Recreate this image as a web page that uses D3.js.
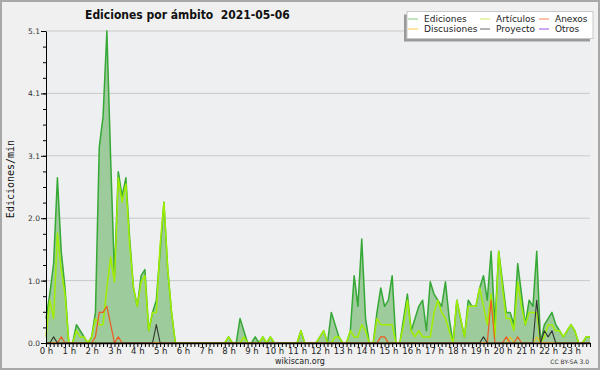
<!DOCTYPE html>
<html>
<head>
<meta charset="utf-8">
<script src="https://cdn.jsdelivr.net/npm/d3@7"></script>
<style>
    body { margin: 0; background: #fff; }
    svg { display: block; }
    text { font-family: "DejaVu Sans", sans-serif; }
</style>
</head>
<body>
<svg id="chart" width="600" height="370"></svg>
<script>
var title = "Ediciones por ámbito  2021-05-06";
var yTitle = "Ediciones/min";

var yTickValues = [0, 1.02, 2.04, 3.06, 4.08, 5.1];
var yTickLabels = ["0.0", "1.0", "2.0", "3.1", "4.1", "5.1"];
var hourLabels = ["0 h", "1 h", "2 h", "3 h", "4 h", "5 h", "6 h", "7 h", "8 h", "9 h", "10 h", "11 h",
    "12 h", "13 h", "14 h", "15 h", "16 h", "17 h", "18 h", "19 h", "20 h", "21 h", "22 h", "23 h"];

// one value every 10 minutes, one line per hour
var ediciones = [
    0.4, 0.8, 1.3, 2.7, 1.5, 0.9,
    0, 0, 0.3, 0.2, 0.1, 0,
    0.1, 0.5, 3.2, 3.7, 5.1, 3.0,
    1.1, 2.8, 2.4, 2.7, 1.7, 0.9,
    0.6, 1.1, 1.2, 0.2, 0.5, 0.7,
    1.5, 2.3, 1.2, 0.5, 0, 0,
    0, 0, 0, 0, 0, 0,
    0, 0, 0, 0, 0, 0,
    0.1, 0, 0, 0.4, 0.2, 0,
    0, 0.1, 0, 0.1, 0, 0.1,
    0, 0, 0, 0, 0, 0,
    0, 0.2, 0, 0, 0, 0,
    0.1, 0.2, 0, 0.5, 0.3, 0.1,
    0, 0, 0.2, 1.1, 0.6, 1.7,
    0.4, 0, 0, 0.5, 0.9, 0.6,
    0.7, 1.1, 0, 0, 0.4, 0.8,
    0.2, 0.4, 0.6, 0.7, 0.2, 1.0,
    0.8, 0.7, 0.6, 1.0, 0.4, 0,
    0.7, 0.4, 0.1, 0.7, 0.6, 0.6,
    0.9, 1.1, 0.7, 1.5, 0.3, 1.5,
    1.0, 0.5, 0.5, 0.3, 1.3, 0.8,
    0.3, 0.7, 0.6, 1.5, 0, 0.3,
    0.4, 0.5, 0.3, 0.2, 0.1, 0.2,
    0.3, 0.2, 0, 0, 0.1, 0.1
];
var articulos = [
    0.1, 0.7, 0.4, 1.8, 1.2, 0.8,
    0, 0, 0.2, 0.1, 0.1, 0,
    0.1, 0.4, 0.3, 0.3, 0.9, 1.4,
    1.0, 2.7, 2.3, 2.6, 1.6, 0.9,
    0.6, 1.0, 1.1, 0.2, 0.5, 0.5,
    1.6, 2.3, 1.2, 0.5, 0, 0,
    0, 0, 0, 0, 0, 0,
    0, 0, 0, 0, 0, 0,
    0.1, 0, 0, 0, 0.1, 0,
    0, 0, 0, 0.1, 0, 0.1,
    0, 0, 0, 0, 0, 0,
    0, 0.2, 0, 0, 0, 0,
    0.1, 0.2, 0, 0, 0.1, 0.1,
    0, 0, 0.2, 0.1, 0.1, 0.3,
    0.2, 0, 0, 0.4, 0.3, 0.3,
    0.3, 0.3, 0, 0, 0.3, 0.7,
    0.2, 0.1, 0.2, 0.1, 0.1, 0.1,
    0.5, 0.7, 0.5, 0.4, 0.2, 0,
    0.7, 0.4, 0.1, 0.6, 0.6, 0.6,
    0.9, 0.6, 0.3, 0.8, 0.1, 1.5,
    0.9, 0.4, 0.4, 0.2, 1.0, 0.6,
    0.3, 0.5, 0.5, 0.5, 0, 0.1,
    0.3, 0.3, 0.2, 0.2, 0.1, 0.2,
    0.3, 0.2, 0, 0, 0.1, 0.1
];
var anexos = [
    0, 0, 0, 0, 0.1, 0,
    0, 0, 0, 0, 0, 0,
    0, 0.1, 0.5, 0.5, 0.6, 0.3,
    0, 0.1, 0, 0, 0, 0,
    0, 0, 0, 0, 0, 0,
    0, 0, 0, 0, 0, 0,
    0, 0, 0, 0, 0, 0,
    0, 0, 0, 0, 0, 0,
    0, 0, 0, 0, 0, 0,
    0, 0, 0, 0, 0, 0,
    0, 0, 0, 0, 0, 0,
    0, 0, 0, 0, 0, 0,
    0, 0, 0, 0, 0, 0,
    0, 0, 0, 0, 0, 0,
    0, 0, 0, 0, 0.1, 0.1,
    0, 0, 0, 0, 0, 0,
    0, 0, 0, 0, 0, 0,
    0, 0, 0, 0, 0, 0,
    0, 0, 0, 0, 0, 0,
    0, 0, 0, 0.7, 0, 0,
    0, 0.1, 0, 0, 0.1, 0,
    0, 0, 0, 0, 0, 0,
    0, 0, 0, 0, 0, 0,
    0, 0, 0, 0, 0, 0
];
var proyecto = [
    0, 0, 0.1, 0, 0, 0,
    0, 0, 0, 0, 0, 0,
    0, 0, 0, 0, 0, 0,
    0, 0, 0, 0, 0, 0,
    0, 0, 0, 0, 0, 0.3,
    0, 0, 0, 0, 0, 0,
    0, 0, 0, 0, 0, 0,
    0, 0, 0, 0, 0, 0,
    0, 0, 0, 0, 0, 0,
    0, 0, 0, 0, 0, 0,
    0, 0, 0, 0, 0, 0,
    0, 0, 0, 0, 0, 0,
    0, 0, 0, 0, 0, 0,
    0, 0, 0, 0, 0, 0,
    0, 0, 0, 0, 0, 0,
    0, 0, 0, 0, 0, 0,
    0, 0, 0, 0, 0, 0,
    0, 0, 0, 0, 0, 0,
    0, 0, 0, 0, 0, 0,
    0, 0.1, 0, 0, 0, 0,
    0, 0, 0, 0, 0, 0,
    0, 0, 0, 0.7, 0, 0.2,
    0.1, 0.2, 0, 0, 0, 0,
    0, 0, 0, 0, 0, 0
];
var discusiones = [
    0, 0, 0, 0, 0, 0,
    0, 0, 0, 0, 0, 0,
    0, 0, 0, 0, 0, 0,
    0, 0, 0, 0, 0, 0,
    0, 0, 0, 0, 0, 0,
    0, 0, 0, 0, 0, 0,
    0, 0, 0, 0, 0, 0,
    0, 0, 0, 0, 0, 0,
    0, 0, 0, 0, 0, 0,
    0, 0, 0, 0, 0, 0,
    0, 0, 0, 0, 0, 0,
    0, 0, 0, 0, 0, 0,
    0, 0, 0, 0, 0, 0,
    0, 0, 0, 0, 0, 0,
    0, 0, 0, 0, 0, 0,
    0, 0, 0, 0, 0, 0,
    0, 0, 0, 0, 0, 0,
    0, 0, 0, 0, 0, 0,
    0, 0, 0, 0, 0, 0,
    0, 0, 0, 0, 0, 0,
    0, 0, 0.1, 0, 0, 0,
    0, 0, 0, 0.1, 0, 0,
    0, 0, 0, 0, 0, 0,
    0, 0, 0, 0, 0, 0
];
var otros = [];

var legendItems = [
    { name: "Ediciones", color: "#7fcc7f" },
    { name: "Discusiones", color: "#ffcc44" },
    { name: "Artículos", color: "#ccee66" },
    { name: "Proyecto", color: "#666666" },
    { name: "Anexos", color: "#ee8855" },
    { name: "Otros", color: "#9955dd" }
];

// plot box (avoid "top", it is window.top)
var plotLeft = 46, plotRight = 590, plotTop = 31, plotBottom = 343;

var svg = d3.select("#chart");

svg.append("rect")
    .attr("x", 1).attr("y", 1)
    .attr("width", 598).attr("height", 368)
    .attr("fill", "#f0f0f0")
    .attr("stroke", "#a8a8a8")
    .attr("stroke-width", 2);

svg.append("rect")
    .attr("x", plotLeft).attr("y", plotTop)
    .attr("width", plotRight - plotLeft).attr("height", plotBottom - plotTop)
    .attr("fill", "#eeeff1");

var xScale = d3.scaleLinear().domain([0, ediciones.length - 1]).range([plotLeft, plotRight]);
var yScale = d3.scaleLinear().domain([0, 5.1]).range([plotBottom, plotTop]);

// horizontal grid
svg.append("g")
    .selectAll("line")
    .data(yTickValues.slice(1))
    .enter()
    .append("line")
    .attr("x1", plotLeft).attr("x2", plotRight)
    .attr("y1", function (d) { return yScale(d); })
    .attr("y2", function (d) { return yScale(d); })
    .attr("stroke", "#c9c9c9")
    .attr("stroke-width", 1);

var area = d3.area()
    .x(function (d, i) { return xScale(i); })
    .y0(yScale(0))
    .y1(function (d) { return yScale(d); });

var line = d3.line()
    .x(function (d, i) { return xScale(i); })
    .y(function (d) { return yScale(d); });

svg.append("path")
    .datum(ediciones)
    .attr("fill", "#9dcb9b")
    .attr("d", area);

var lines = [
    { data: ediciones, color: "#35a835", width: 1.5 },
    { data: articulos, color: "#a0ee00", width: 1.5 },
    { data: discusiones, color: "#ffc400", width: 1 },
    { data: anexos, color: "#ee5a1e", width: 1.2 },
    { data: proyecto, color: "#333333", width: 1.1 },
    { data: otros, color: "#9933ff", width: 1 }
];
lines.forEach(function (s) {
    if (!s.data.length) return;
    svg.append("path")
        .datum(s.data)
        .attr("fill", "none")
        .attr("stroke", s.color)
        .attr("stroke-width", s.width)
        .attr("stroke-linejoin", "round")
        .attr("d", line);
});

// y axis, major and minor ticks
var yAxis = svg.append("g")
    .attr("transform", "translate(" + plotLeft + ",0)")
    .call(d3.axisLeft(yScale)
        .tickValues(yTickValues)
        .tickFormat(function (d, i) { return yTickLabels[i]; })
        .tickSize(5)
        .tickSizeOuter(0)
        .tickPadding(1));
yAxis.selectAll("text")
    .style("font-size", "7.5px")
    .attr("fill", "#333");

svg.append("g")
    .attr("transform", "translate(" + plotLeft + ",0)")
    .call(d3.axisLeft(yScale)
        .tickValues(d3.range(0, 5.11, 0.255))
        .tickFormat("")
        .tickSize(3)
        .tickSizeOuter(0))
    .select(".domain").remove();

// x axis, a tick every 10 minutes, label each hour
var xAxis = svg.append("g")
    .attr("transform", "translate(0," + plotBottom + ")")
    .call(d3.axisBottom(xScale)
        .tickValues(d3.range(0, ediciones.length))
        .tickFormat(function (d) { return d % 6 === 0 ? hourLabels[d / 6] : ""; })
        .tickSize(4)
        .tickSizeOuter(0)
        .tickPadding(1));
xAxis.select(".domain").attr("stroke-width", 1.6);
xAxis.selectAll("text")
    .style("font-size", "8.5px")
    .attr("fill", "#222");

svg.append("text")
    .attr("transform", "translate(13.5,179) rotate(-90)")
    .attr("text-anchor", "middle")
    .style("font-family", "'DejaVu Sans Mono', monospace")
    .style("font-size", "10px")
    .attr("fill", "#111")
    .text(yTitle);

svg.append("text")
    .attr("x", 85).attr("y", 18.5)
    .style("font-family", "'DejaVu Sans Condensed', 'DejaVu Sans', sans-serif")
    .style("font-stretch", "condensed")
    .style("font-weight", "bold")
    .style("font-size", "12px")
    .style("white-space", "pre")
    .attr("fill", "#111")
    .text(title);

// legend
var legend = svg.append("g");
legend.append("rect")
    .attr("x", 404).attr("y", 14.5)
    .attr("width", 186).attr("height", 27)
    .attr("fill", "#9a9a9a");
legend.append("rect")
    .attr("x", 407).attr("y", 11.5)
    .attr("width", 186).attr("height", 27)
    .attr("fill", "#fff")
    .attr("stroke", "#c8c8c8");

var colX = [408, 480, 539];
var item = legend.selectAll("g.item")
    .data(legendItems)
    .enter()
    .append("g")
    .attr("class", "item")
    .attr("transform", function (d, i) {
        return "translate(" + colX[Math.floor(i / 2)] + "," + (i % 2 === 0 ? 19 : 29) + ")";
    });
item.append("line")
    .attr("x1", 0).attr("x2", 10)
    .attr("stroke", function (d) { return d.color; })
    .attr("stroke-width", 1);
item.append("text")
    .attr("x", 16).attr("y", 3.3)
    .style("font-size", "9px")
    .attr("fill", "#222")
    .text(function (d) { return d.name; });

svg.append("text")
    .attr("x", 300).attr("y", 364)
    .attr("text-anchor", "middle")
    .style("font-size", "8px")
    .attr("fill", "#222")
    .text("wikiscan.org");

svg.append("text")
    .attr("x", 589).attr("y", 364)
    .attr("text-anchor", "end")
    .style("font-size", "6px")
    .attr("fill", "#333")
    .text("CC BY-SA 3.0");
</script>
</body>
</html>
